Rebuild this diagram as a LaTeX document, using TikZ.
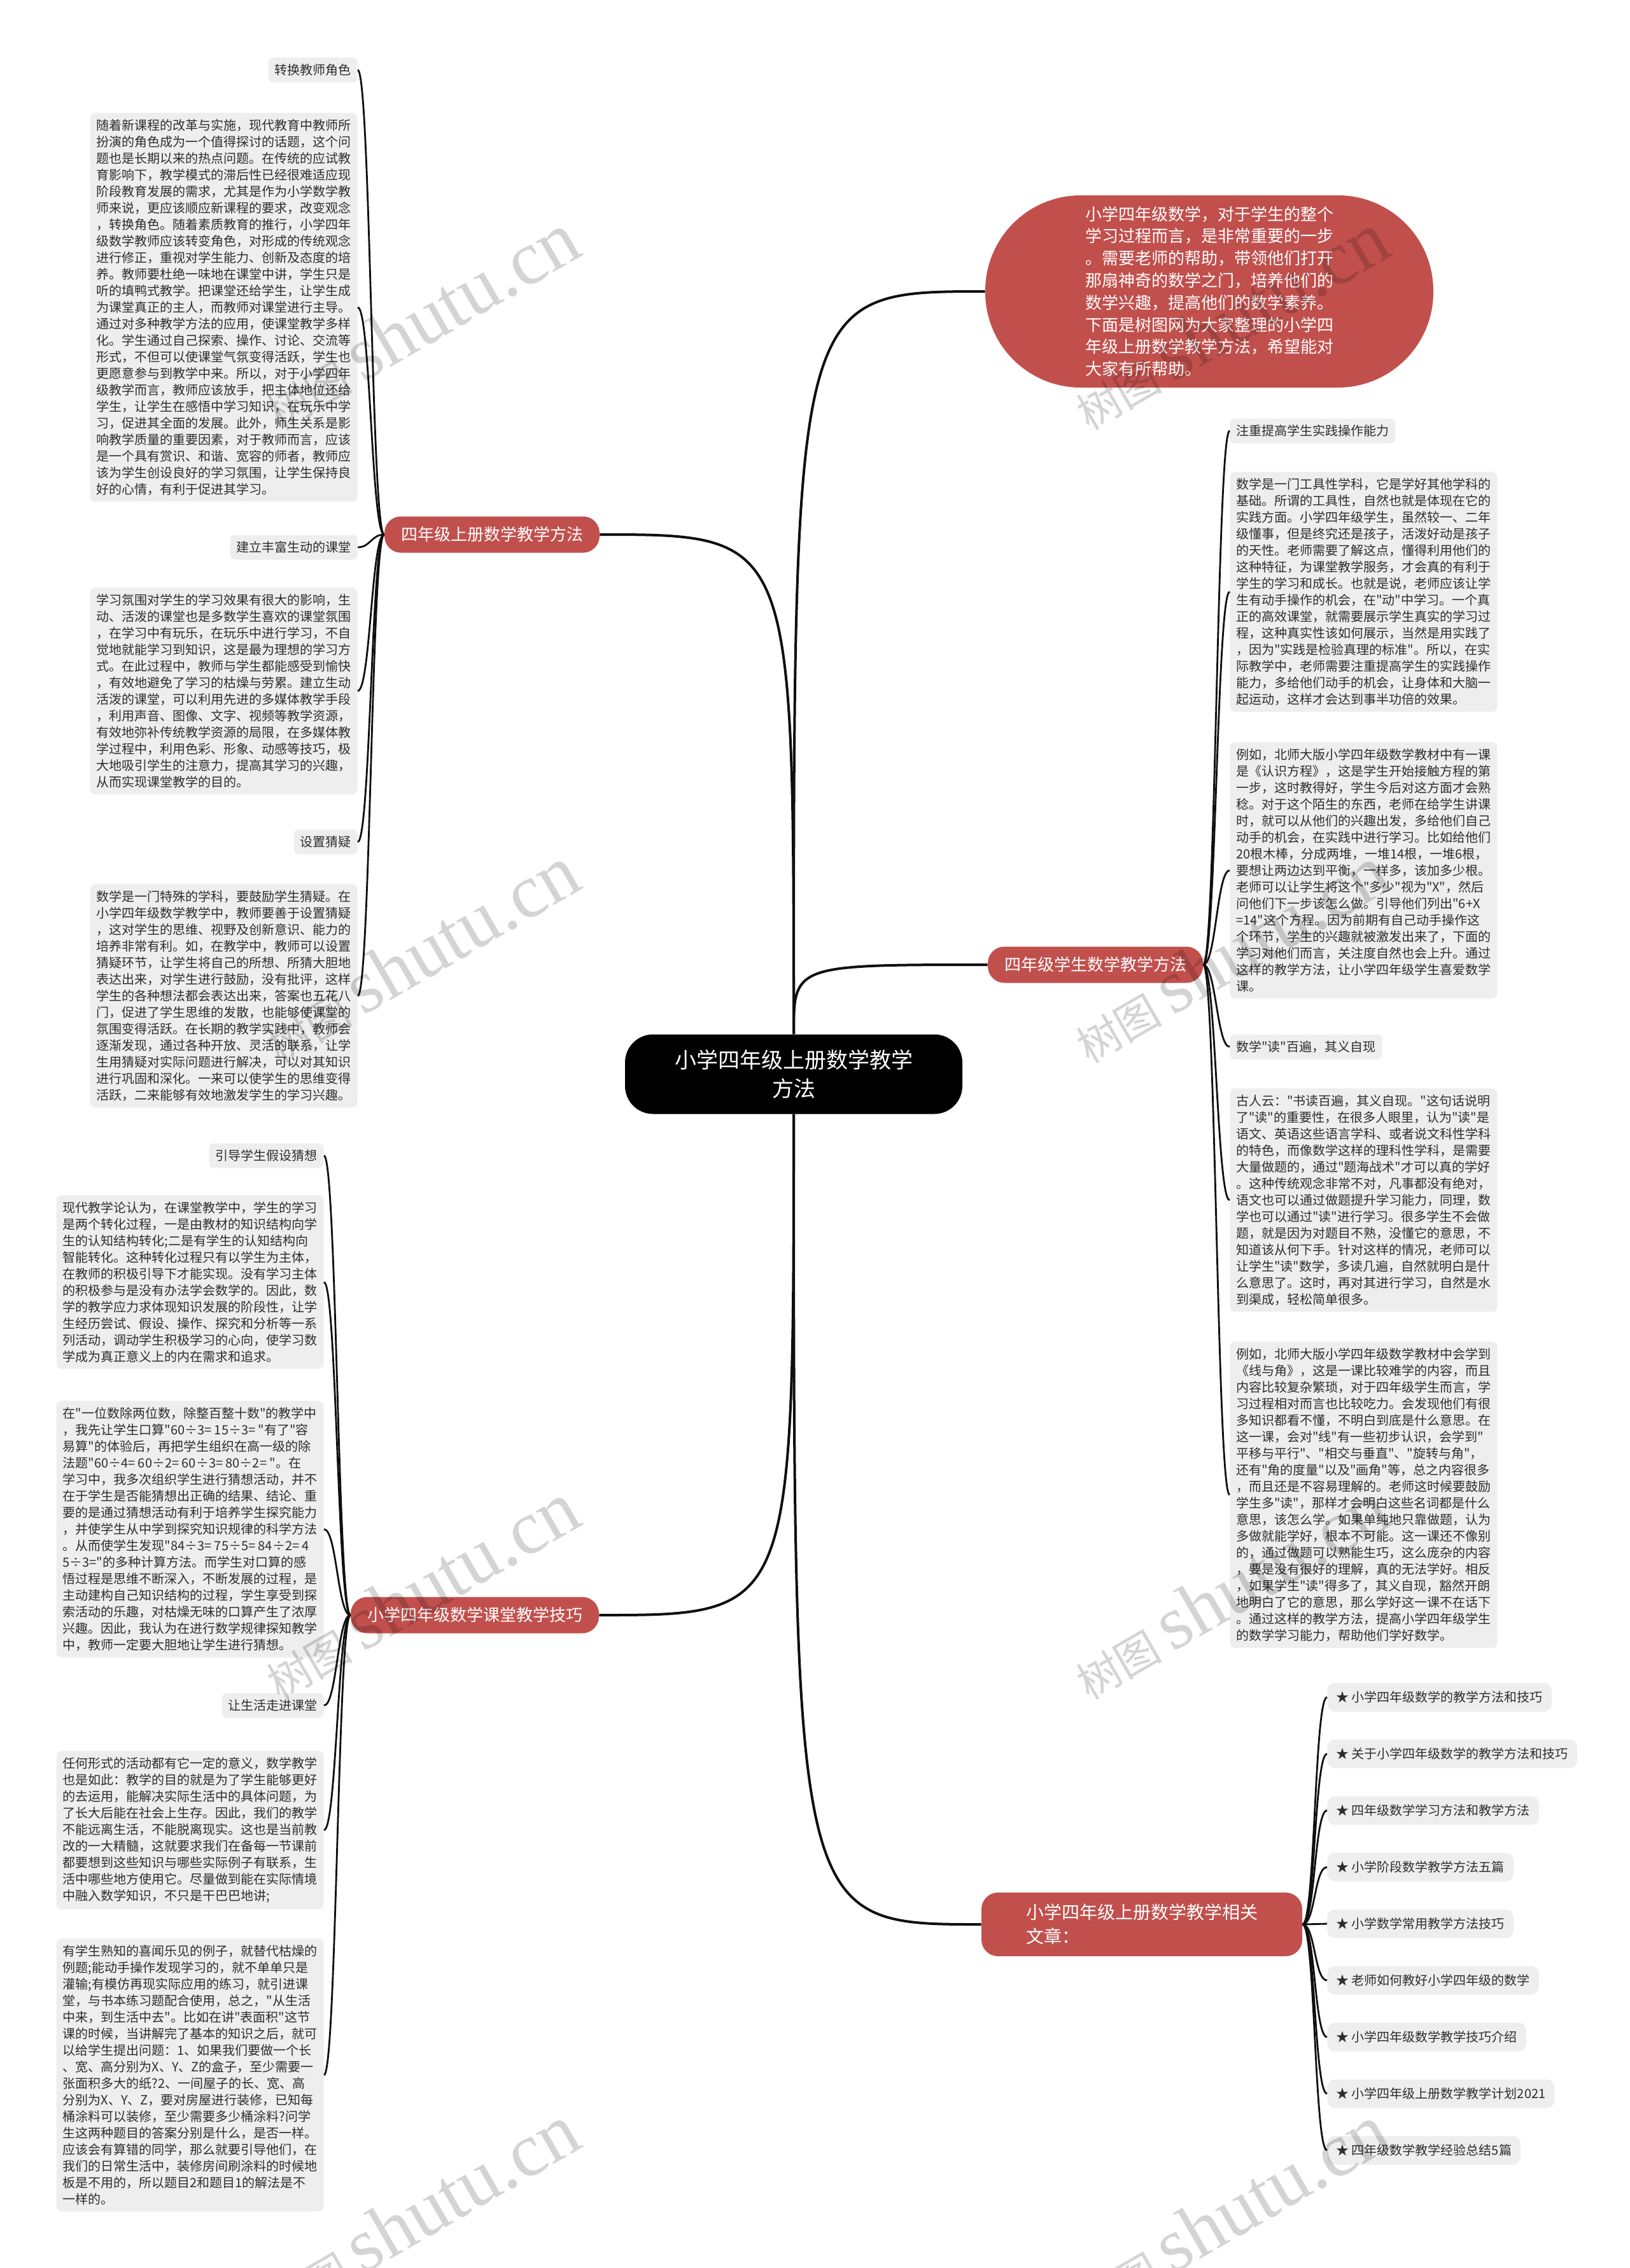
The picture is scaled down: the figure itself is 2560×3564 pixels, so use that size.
\documentclass[tikz,border=0pt]{standalone}
\usepackage{fontspec}
\setmainfont{Noto Sans CJK SC}[Ligatures=TeXOff]
\newfontfamily\wmserif{Liberation Serif}
\definecolor{brred}{RGB}{193,80,77}
\definecolor{leafgray}{RGB}{238,238,238}
\definecolor{txtgray}{RGB}{45,45,45}
\definecolor{linec}{RGB}{15,15,15}
\tikzset{
  leaf/.style={fill=leafgray, rounded corners=4pt, inner xsep=5pt, inner ysep=5pt, align=left, text=txtgray, font=\fontsize{10}{13}\selectfont},
  lbl/.style={leaf, minimum height=19.5pt, inner ysep=3pt},
  linkbox/.style={leaf, minimum height=22.5pt, rounded corners=6pt, inner xsep=7pt},
  branch/.style={fill=brred, text=white, rounded corners=13pt, font=\fontsize{13}{16}\selectfont, inner xsep=13pt, minimum height=28.5pt, align=left},
  central/.style={fill=black, text=white, rounded corners=22pt, font=\fontsize{17}{22.5}\selectfont, align=center, minimum width=265pt, minimum height=62.5pt},
  mainedge/.style={draw=linec, line width=2pt},
  subedge/.style={draw=linec, line width=1.4pt},
  wm/.style={rotate=30, text=black, text opacity=0.17}
}
\begin{document}
\begin{tikzpicture}[x=0.5pt,y=-0.5pt]
\fill[white] (0,0) rectangle (2560,3564);
\useasboundingbox (0,0) rectangle (2560,3564);

% central and branches
\node[central] (c) at (1247,1688) {小学四年级上册数学教学\\方法};
\node[branch] (b1) at (773,840) {四年级上册数学教学方法};
\node[branch] (b2) at (1721,1516) {四年级学生数学教学方法};
\node[branch] (b3) at (746,2538) {小学四年级数学课堂教学技巧};
\node[branch, minimum width=252pt, minimum height=50pt, font=\fontsize{14}{19}\selectfont, inner xsep=24pt] (b4) at (1794,3024) {小学四年级上册数学教学相关\\文章：};
\node[fill=brred, text=white, rounded corners=75pt, minimum width=352pt, minimum height=151pt, font=\fontsize{13}{17.4}\selectfont, align=left] (intro) at (1900,458) {小学四年级数学，对于学生的整个\\学习过程而言，是非常重要的一步\\。需要老师的帮助，带领他们打开\\那扇神奇的数学之门，培养他们的\\数学兴趣，提高他们的数学素养。\\下面是树图网为大家整理的小学四\\年级上册数学教学方法，希望能对\\大家有所帮助。};

% left group 1
\node[lbl, anchor=east] (l1a) at (562,110) {转换教师角色};
\node[leaf, anchor=north east] (A) at (562,177) {随着新课程的改革与实施，现代教育中教师所\\扮演的角色成为一个值得探讨的话题，这个问\\题也是长期以来的热点问题。在传统的应试教\\育影响下，教学模式的滞后性已经很难适应现\\阶段教育发展的需求，尤其是作为小学数学教\\师来说，更应该顺应新课程的要求，改变观念\\，转换角色。随着素质教育的推行，小学四年\\级数学教师应该转变角色，对形成的传统观念\\进行修正，重视对学生能力、创新及态度的培\\养。教师要杜绝一味地在课堂中讲，学生只是\\听的填鸭式教学。把课堂还给学生，让学生成\\为课堂真正的主人，而教师对课堂进行主导。\\通过对多种教学方法的应用，使课堂教学多样\\化。学生通过自己探索、操作、讨论、交流等\\形式，不但可以使课堂气氛变得活跃，学生也\\更愿意参与到教学中来。所以，对于小学四年\\级教学而言，教师应该放手，把主体地位还给\\学生，让学生在感悟中学习知识，在玩乐中学\\习，促进其全面的发展。此外，师生关系是影\\响教学质量的重要因素，对于教师而言，应该\\是一个具有赏识、和谐、宽容的师者，教师应\\该为学生创设良好的学习氛围，让学生保持良\\好的心情，有利于促进其学习。};
\node[lbl, anchor=east] (l1b) at (562,860) {建立丰富生动的课堂};
\node[leaf, anchor=north east] (B) at (562,923) {学习氛围对学生的学习效果有很大的影响，生\\动、活泼的课堂也是多数学生喜欢的课堂氛围\\，在学习中有玩乐，在玩乐中进行学习，不自\\觉地就能学习到知识，这是最为理想的学习方\\式。在此过程中，教师与学生都能感受到愉快\\，有效地避免了学习的枯燥与劳累。建立生动\\活泼的课堂，可以利用先进的多媒体教学手段\\，利用声音、图像、文字、视频等教学资源，\\有效地弥补传统教学资源的局限，在多媒体教\\学过程中，利用色彩、形象、动感等技巧，极\\大地吸引学生的注意力，提高其学习的兴趣，\\从而实现课堂教学的目的。};
\node[lbl, anchor=east] (l1c) at (562,1323) {设置猜疑};
\node[leaf, anchor=north east] (C) at (562,1389) {数学是一门特殊的学科，要鼓励学生猜疑。在\\小学四年级数学教学中，教师要善于设置猜疑\\，这对学生的思维、视野及创新意识、能力的\\培养非常有利。如，在教学中，教师可以设置\\猜疑环节，让学生将自己的所想、所猜大胆地\\表达出来，对学生进行鼓励，没有批评，这样\\学生的各种想法都会表达出来，答案也五花八\\门，促进了学生思维的发散，也能够使课堂的\\氛围变得活跃。在长期的教学实践中，教师会\\逐渐发现，通过各种开放、灵活的联系，让学\\生用猜疑对实际问题进行解决，可以对其知识\\进行巩固和深化。一来可以使学生的思维变得\\活跃，二来能够有效地激发学生的学习兴趣。};

% left group 2
\node[lbl, anchor=east] (l2a) at (509,1816) {引导学生假设猜想};
\node[leaf, anchor=north east] (D) at (509,1878) {现代教学论认为，在课堂教学中，学生的学习\\是两个转化过程，一是由教材的知识结构向学\\生的认知结构转化;二是有学生的认知结构向\\智能转化。这种转化过程只有以学生为主体，\\在教师的积极引导下才能实现。没有学习主体\\的积极参与是没有办法学会数学的。因此，数\\学的教学应力求体现知识发展的阶段性，让学\\生经历尝试、假设、操作、探究和分析等一系\\列活动，调动学生积极学习的心向，使学习数\\学成为真正意义上的内在需求和追求。};
\node[leaf, anchor=north east] (E) at (509,2201) {在"一位数除两位数，除整百整十数"的教学中\\，我先让学生口算"60÷3= 15÷3= "有了"容\\易算"的体验后，再把学生组织在高一级的除\\法题"60÷4= 60÷2= 60÷3= 80÷2= "。在\\学习中，我多次组织学生进行猜想活动，并不\\在于学生是否能猜想出正确的结果、结论、重\\要的是通过猜想活动有利于培养学生探究能力\\，并使学生从中学到探究知识规律的科学方法\\。从而使学生发现"84÷3= 75÷5= 84÷2= 4\\5÷3="的多种计算方法。而学生对口算的感\\悟过程是思维不断深入，不断发展的过程，是\\主动建构自己知识结构的过程，学生享受到探\\索活动的乐趣，对枯燥无味的口算产生了浓厚\\兴趣。因此，我认为在进行数学规律探知教学\\中，教师一定要大胆地让学生进行猜想。};
\node[lbl, anchor=east] (l2b) at (509,2680) {让生活走进课堂};
\node[leaf, anchor=north east] (F) at (509,2751) {任何形式的活动都有它一定的意义，数学教学\\也是如此：教学的目的就是为了学生能够更好\\的去运用，能解决实际生活中的具体问题，为\\了长大后能在社会上生存。因此，我们的教学\\不能远离生活，不能脱离现实。这也是当前教\\改的一大精髓，这就要求我们在备每一节课前\\都要想到这些知识与哪些实际例子有联系，生\\活中哪些地方使用它。尽量做到能在实际情境\\中融入数学知识，不只是干巴巴地讲;};
\node[leaf, anchor=north east] (G) at (509,3046) {有学生熟知的喜闻乐见的例子，就替代枯燥的\\例题;能动手操作发现学习的，就不单单只是\\灌输;有模仿再现实际应用的练习，就引进课\\堂，与书本练习题配合使用，总之，"从生活\\中来，到生活中去"。比如在讲"表面积"这节\\课的时候，当讲解完了基本的知识之后，就可\\以给学生提出问题：1、如果我们要做一个长\\、宽、高分别为X、Y、Z的盒子，至少需要一\\张面积多大的纸?2、一间屋子的长、宽、高\\分别为X、Y、Z，要对房屋进行装修，已知每\\桶涂料可以装修，至少需要多少桶涂料?问学\\生这两种题目的答案分别是什么，是否一样。\\应该会有算错的同学，那么就要引导他们，在\\我们的日常生活中，装修房间刷涂料的时候地\\板是不用的，所以题目2和题目1的解法是不\\一样的。};

% right group 1
\node[lbl, anchor=west] (r1a) at (1932,677) {注重提高学生实践操作能力};
\node[leaf, anchor=north west] (H) at (1932,741) {数学是一门工具性学科，它是学好其他学科的\\基础。所谓的工具性，自然也就是体现在它的\\实践方面。小学四年级学生，虽然较一、二年\\级懂事，但是终究还是孩子，活泼好动是孩子\\的天性。老师需要了解这点，懂得利用他们的\\这种特征，为课堂教学服务，才会真的有利于\\学生的学习和成长。也就是说，老师应该让学\\生有动手操作的机会，在"动"中学习。一个真\\正的高效课堂，就需要展示学生真实的学习过\\程，这种真实性该如何展示，当然是用实践了\\，因为"实践是检验真理的标准"。所以，在实\\际教学中，老师需要注重提高学生的实践操作\\能力，多给他们动手的机会，让身体和大脑一\\起运动，这样才会达到事半功倍的效果。};
\node[leaf, anchor=north west] (I) at (1932,1166) {例如，北师大版小学四年级数学教材中有一课\\是《认识方程》，这是学生开始接触方程的第\\一步，这时教得好，学生今后对这方面才会熟\\稔。对于这个陌生的东西，老师在给学生讲课\\时，就可以从他们的兴趣出发，多给他们自己\\动手的机会，在实践中进行学习。比如给他们\\20根木棒，分成两堆，一堆14根，一堆6根，\\要想让两边达到平衡，一样多，该加多少根。\\老师可以让学生将这个"多少"视为"X"，然后\\问他们下一步该怎么做。引导他们列出"6+X\\=14"这个方程。因为前期有自己动手操作这\\个环节，学生的兴趣就被激发出来了，下面的\\学习对他们而言，关注度自然也会上升。通过\\这样的教学方法，让小学四年级学生喜爱数学\\课。};
\node[lbl, anchor=west] (r1b) at (1932,1645) {数学"读"百遍，其义自现};
\node[leaf, anchor=north west] (J) at (1932,1710) {古人云："书读百遍，其义自现。"这句话说明\\了"读"的重要性，在很多人眼里，认为"读"是\\语文、英语这些语言学科、或者说文科性学科\\的特色，而像数学这样的理科性学科，是需要\\大量做题的，通过"题海战术"才可以真的学好\\。这种传统观念非常不对，凡事都没有绝对，\\语文也可以通过做题提升学习能力，同理，数\\学也可以通过"读"进行学习。很多学生不会做\\题，就是因为对题目不熟，没懂它的意思，不\\知道该从何下手。针对这样的情况，老师可以\\让学生"读"数学，多读几遍，自然就明白是什\\么意思了。这时，再对其进行学习，自然是水\\到渠成，轻松简单很多。};
\node[leaf, anchor=north west] (K) at (1932,2108) {例如，北师大版小学四年级数学教材中会学到\\《线与角》，这是一课比较难学的内容，而且\\内容比较复杂繁琐，对于四年级学生而言，学\\习过程相对而言也比较吃力。会发现他们有很\\多知识都看不懂，不明白到底是什么意思。在\\这一课，会对"线"有一些初步认识，会学到"\\平移与平行"、"相交与垂直"、"旋转与角"，\\还有"角的度量"以及"画角"等，总之内容很多\\，而且还是不容易理解的。老师这时候要鼓励\\学生多"读"，那样才会明白这些名词都是什么\\意思，该怎么学。如果单纯地只靠做题，认为\\多做就能学好，根本不可能。这一课还不像别\\的，通过做题可以熟能生巧，这么庞杂的内容\\，要是没有很好的理解，真的无法学好。相反\\，如果学生"读"得多了，其义自现，豁然开朗\\地明白了它的意思，那么学好这一课不在话下\\。通过这样的教学方法，提高小学四年级学生\\的数学学习能力，帮助他们学好数学。};

% right group 2 (links)
\node[linkbox, anchor=west] (k1) at (2085,2667) {★ 小学四年级数学的教学方法和技巧};
\node[linkbox, anchor=west] (k2) at (2085,2756) {★ 关于小学四年级数学的教学方法和技巧};
\node[linkbox, anchor=west] (k3) at (2085,2845) {★ 四年级数学学习方法和教学方法};
\node[linkbox, anchor=west] (k4) at (2085,2934) {★ 小学阶段数学教学方法五篇};
\node[linkbox, anchor=west] (k5) at (2085,3023) {★ 小学数学常用教学方法技巧};
\node[linkbox, anchor=west] (k6) at (2085,3112) {★ 老师如何教好小学四年级的数学};
\node[linkbox, anchor=west] (k7) at (2085,3201) {★ 小学四年级数学教学技巧介绍};
\node[linkbox, anchor=west] (k8) at (2085,3290) {★ 小学四年级上册数学教学计划2021};
\node[linkbox, anchor=west] (k9) at (2085,3379) {★ 四年级数学教学经验总结5篇};

% main connectors
\draw[mainedge] (c.north) .. controls (c.north |- b1.east) .. (b1.east);
\draw[mainedge] (c.north) .. controls (c.north |- intro.west) .. (intro.west);
\draw[mainedge] (c.north) .. controls (c.north |- b2.west) .. (b2.west);
\draw[mainedge] (c.south) .. controls (c.south |- b3.east) .. (b3.east);
\draw[mainedge] (c.south) .. controls (c.south |- b4.west) .. (b4.west);

% sub connectors
\foreach \n in {l1a,A,l1b,B,l1c,C}
  \draw[subedge] (\n.east) .. controls +(20,0) and +(-20,0) .. (b1.west);
\foreach \n in {l2a,D,E,l2b,F,G}
  \draw[subedge] (\n.east) .. controls +(20,0) and +(-20,0) .. (b3.west);
\foreach \n in {r1a,H,I,r1b,J,K}
  \draw[subedge] (b2.east) .. controls +(20,0) and +(-20,0) .. (\n.west);
\foreach \n in {k1,k2,k3,k4,k5,k6,k7,k8,k9}
  \draw[subedge] (b4.east) .. controls +(20,0) and +(-20,0) .. (\n.west);

% watermarks
\foreach \p [count=\i] in {(660,505),(1932,505),(660,1500),(1932,1500),(660,2500),(1932,2500),(660,3478),(1932,3478)}
  \node[wm] (wm\i) at \p {{\fontsize{34}{34}\selectfont 树图}\hspace{8pt}{\wmserif\fontsize{60}{60}\selectfont shutu.cn}};
\end{tikzpicture}
\end{document}
